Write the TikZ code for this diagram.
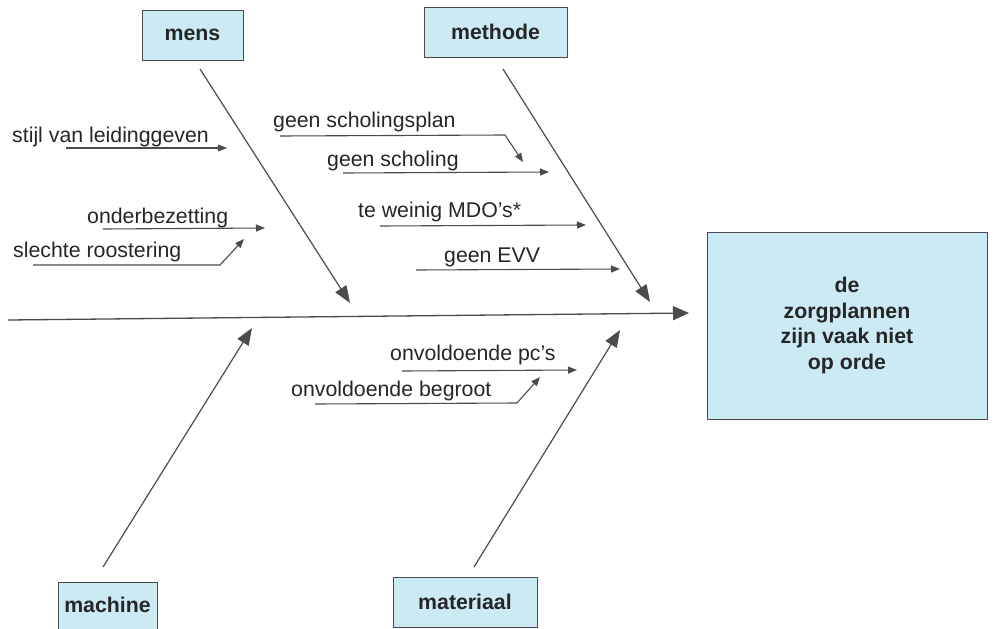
\documentclass[tikz,border=0pt]{standalone}
\usepackage{fontspec}
\setmainfont{Liberation Sans}
\usetikzlibrary{arrows.meta}
\definecolor{boxblue}{RGB}{204,234,244}
\definecolor{ink}{RGB}{38,38,38}
\definecolor{wire}{RGB}{75,75,75}
\begin{document}
\begin{tikzpicture}[x=1pt,y=-1pt,
  every node/.style={font=\fontsize{21.3}{25.5}\selectfont, text=ink},
  cause/.style={inner sep=0pt, anchor=base west},
  catbox/.style={draw=wire, fill=boxblue, line width=1pt, inner sep=0pt,
                 font=\fontsize{21.3}{25.5}\selectfont\bfseries},
  bone/.style={draw=wire, line width=1.2pt, -{Triangle[length=17pt,width=13pt]}},
  spine/.style={draw=wire, line width=1.3pt, -{Triangle[length=16pt,width=14pt]}},
  twig/.style={draw=wire, line width=1.1pt, -{Triangle[length=9pt,width=7pt]}},
]
\clip (0,0) rectangle (994,629);
\useasboundingbox (0,0) rectangle (994,629);

% category boxes
\node[catbox, minimum width=101pt, minimum height=50pt] (mens) at (192.5,35) {mens};
\node[catbox, minimum width=143pt, minimum height=50pt] (methode) at (495.5,32) {methode};
\node[catbox, minimum width=144pt, minimum height=50pt] (materiaal) at (465,602) {materiaal};
\node[catbox, minimum width=99pt, minimum height=60pt, text height=15pt, text depth=14pt]
  (machine) at (107.5,612) {machine};

% effect box
\node[catbox, minimum width=280pt, minimum height=187pt, align=center] (effect)
  at (847,325.5) {de\\zorgplannen\\zijn vaak niet\\op orde};

% spine
\coordinate (tail) at (8,320);
\coordinate (head) at (689,313);
\draw[spine] (tail) -- (head);

% main bones
\coordinate (mensA) at (200,69);   \coordinate (mensB) at (350,303);
\coordinate (methA) at (503,69);   \coordinate (methB) at (650,302);
\coordinate (machA) at (103,567);  \coordinate (machB) at (252,328);
\coordinate (matA)  at (474,567);  \coordinate (matB)  at (620,330);
\draw[bone] (mensA) -- (mensB);
\draw[bone] (methA) -- (methB);
\draw[bone] (machA) -- (machB);
\draw[bone] (matA) -- (matB);

% causes: mens
\node[cause] (c1) at (12,142) {stijl van leidinggeven};
\node[cause] (c2) at (87,223) {onderbezetting};
\node[cause] (c3) at (13,257) {slechte roostering};
\coordinate (c1a) at (66,148);  \coordinate (c1b) at (227,148);
\coordinate (c2a) at (103,229); \coordinate (c2b) at (265,228);
\coordinate (c3a) at (33,265);  \coordinate (c3k) at (220,265); \coordinate (c3b) at (244,239);
\draw[twig] (c1a) -- (c1b);
\draw[twig] (c2a) -- (c2b);
\draw[twig] (c3a) -- (c3k) -- (c3b);

% causes: methode
\node[cause] (c4) at (273,127) {geen scholingsplan};
\node[cause] (c5) at (327,166) {geen scholing};
\node[cause] (c6) at (358,217) {te weinig MDO’s*};
\node[cause] (c7) at (444,262) {geen EVV};
\coordinate (c4a) at (280,136); \coordinate (c4k) at (505,135); \coordinate (c4b) at (523,162);
\coordinate (c5a) at (343,173); \coordinate (c5b) at (549,172);
\coordinate (c6a) at (380,226); \coordinate (c6b) at (586,225);
\coordinate (c7a) at (416,270); \coordinate (c7b) at (620,269);
\draw[twig] (c4a) -- (c4k) -- (c4b);
\draw[twig] (c5a) -- (c5b);
\draw[twig] (c6a) -- (c6b);
\draw[twig] (c7a) -- (c7b);

% causes: materiaal
\node[cause] (c8) at (390,360) {onvoldoende pc’s};
\node[cause] (c9) at (291,396) {onvoldoende begroot};
\coordinate (c8a) at (402,371); \coordinate (c8b) at (577,370);
\coordinate (c9a) at (315,404); \coordinate (c9k) at (517,403); \coordinate (c9b) at (540,377);
\draw[twig] (c8a) -- (c8b);
\draw[twig] (c9a) -- (c9k) -- (c9b);
\end{tikzpicture}
\end{document}
